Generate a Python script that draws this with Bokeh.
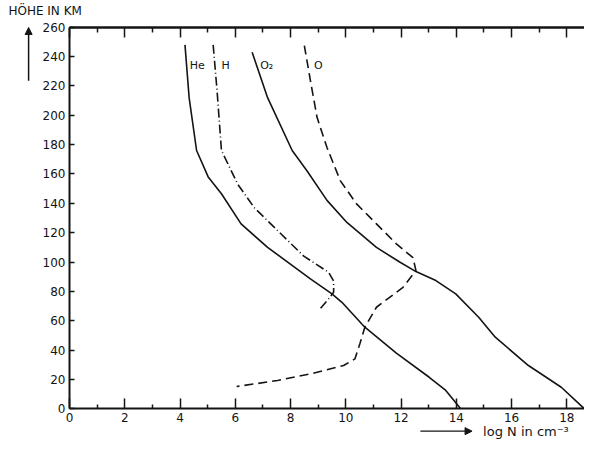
from bokeh.plotting import figure
from bokeh.models import Range1d, LinearAxis, FixedTicker, Label, Arrow, NormalHead
from bokeh.embed import file_html
from bokeh.resources import INLINE

# ---- data (log N in cm^-3, Höhe in km) ----
he_x = [4.18, 4.33, 4.60, 5.02, 5.50, 6.21, 7.17, 8.72, 9.50, 9.86, 10.69, 11.83, 13.02, 13.62, 14.16]
he_y = [248, 212, 176, 158, 146.5, 126, 110, 88.6, 78.3, 72.6, 55.6, 38.0, 21.5, 12.5, 0]

h_x = [5.20, 5.34, 5.50, 6.09, 6.69, 7.53, 8.48, 9.38, 9.56, 9.56, 9.38, 9.02]
h_y = [248, 217, 176, 153, 137, 121.5, 104, 93, 87, 79.4, 75, 67]

o2_x = [6.61, 7.17, 8.06, 8.60, 9.32, 10.04, 11.11, 11.95, 12.54, 13.26, 13.98, 14.81, 15.41, 16.61, 17.80, 18.64]
o2_y = [243, 212, 176, 162, 142, 127, 110, 100, 93.5, 87.4, 78.3, 62.4, 48.8, 29.5, 14.7, 0]

o_x = [8.50, 8.72, 8.96, 9.32, 9.80, 10.39, 11.11, 11.83, 12.43, 12.54, 12.07, 11.11, 10.69, 10.51, 10.33, 9.92, 8.72, 7.53, 6.05]
o_y = [247.5, 223.6, 198.6, 178, 155.5, 139.6, 126, 112.4, 103, 94.2, 82.8, 69.2, 55.6, 44.3, 34, 29.5, 23.8, 19.3, 15.2]

curve_names = ["He", "H", "O\u2082", "O"]
x_ticks = [0, 2, 4, 6, 8, 10, 12, 14, 16, 18]
x_minor = [1, 3, 5, 7, 9, 11, 13, 15, 17]
y_ticks = [0, 20, 40, 60, 80, 100, 120, 140, 160, 180, 200, 220, 240, 260]
y_title = "HÖHE IN KM"
x_title = "log  N in cm\u207b\u00b3"

X_END = 18.64
Y_END = 260

INK = "#141414"
FONT = "DejaVu Sans"

# the frame fills the whole canvas; the axes are placed at fixed data locations
p = figure(width=584, height=439, x_range=Range1d(-2.497, 18.64), y_range=Range1d(-20.9, 278.2),
           output_backend="svg", toolbar_location=None,
           x_axis_location=None, y_axis_location=None, min_border=0)
p.grid.visible = False
p.outline_line_color = None
p.background_fill_color = "white"
p.border_fill_color = "white"


def base_style(ax):
    ax.axis_line_width = 2
    ax.axis_line_color = INK
    ax.major_tick_out = 0
    ax.minor_tick_out = 0
    ax.major_tick_line_color = INK
    ax.minor_tick_line_color = INK
    ax.major_tick_line_width = 1.5
    ax.minor_tick_line_width = 1.5
    ax.major_label_text_font = FONT
    ax.major_label_text_font_size = "12px"
    ax.major_label_text_color = INK


# bottom axis
xb = LinearAxis(fixed_location=0, bounds=(0, X_END),
                ticker=FixedTicker(ticks=x_ticks, minor_ticks=x_minor))
base_style(xb)
xb.major_tick_in = 10
xb.minor_tick_in = 4
xb.major_label_standoff = 4
p.add_layout(xb, "below")

# top axis (ticks only)
xt1 = LinearAxis(fixed_location=Y_END, bounds=(0, X_END),
                 ticker=FixedTicker(ticks=[], minor_ticks=x_minor))
base_style(xt1)
xt1.minor_tick_in = 5
p.add_layout(xt1, "above")
xt2 = LinearAxis(fixed_location=Y_END, bounds=(0, X_END),
                 ticker=FixedTicker(ticks=[], minor_ticks=x_ticks))
base_style(xt2)
xt2.minor_tick_in = 10
p.add_layout(xt2, "above")

# left axis
yl = LinearAxis(fixed_location=0, bounds=(0, Y_END),
                ticker=FixedTicker(ticks=y_ticks, minor_ticks=[]))
base_style(yl)
yl.major_tick_in = 5
yl.minor_tick_in = 0
yl.major_label_standoff = 4
p.add_layout(yl, "left")

p.line(he_x, he_y, line_color=INK, line_width=1.6)
p.line(h_x, h_y, line_color=INK, line_width=1.6, line_dash="9 3 1 3")
p.line(o2_x, o2_y, line_color=INK, line_width=1.6)
p.line(o_x, o_y, line_color=INK, line_width=1.6, line_dash="9 5")

for name, lx in zip(curve_names, [4.35, 5.5, 6.9, 8.85]):
    p.add_layout(Label(x=lx, y=234, text=name, text_font=FONT, text_font_size="11px",
                       text_color=INK, text_baseline="middle", text_align="left"))

# y title and arrow
p.add_layout(Label(x=-2.21, y=271, text=y_title, text_font=FONT, text_font_size="12px",
                   text_color=INK, text_baseline="middle", text_align="left"))
p.add_layout(Arrow(x_start=-1.48, y_start=223.5, x_end=-1.48, y_end=259.8, line_color=INK,
                   line_width=1.5, end=NormalHead(size=7, fill_color=INK, line_color=INK)))

# x title and arrow
p.add_layout(Arrow(x_start=12.7, y_start=-15.2, x_end=14.57, y_end=-15.2, line_color=INK,
                   line_width=1.2, end=NormalHead(size=7, fill_color=INK, line_color=INK)))
p.add_layout(Label(x=14.97, y=-15.2, text=x_title, text_font=FONT, text_font_size="13px",
                   text_color=INK, text_baseline="middle", text_align="left"))

open("out.html", "w").write(file_html(p, INLINE))
